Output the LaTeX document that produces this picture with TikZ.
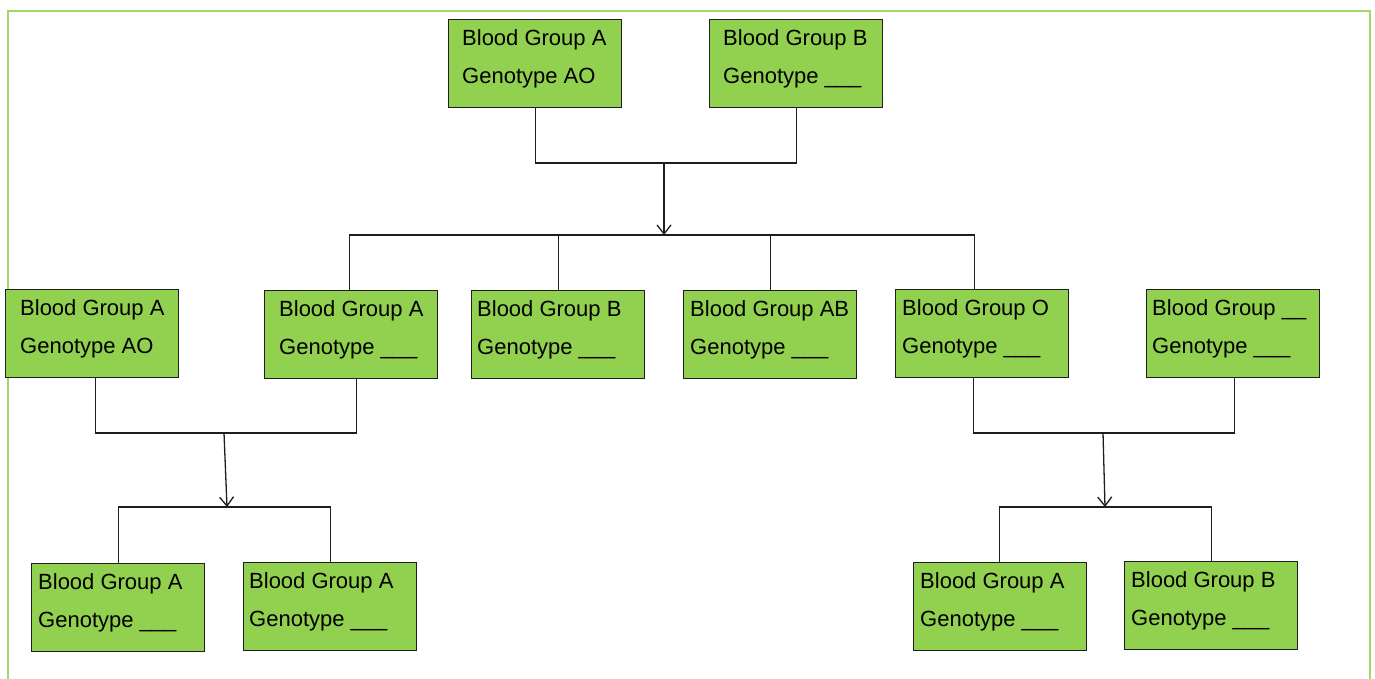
\documentclass[tikz,border=0pt]{standalone}
\usepackage{fontspec}
\setmainfont{Liberation Sans}
\usetikzlibrary{arrows.meta}
\definecolor{leaf}{RGB}{146,208,80}
\definecolor{frame}{RGB}{160,216,104}
\definecolor{ink}{RGB}{30,30,30}
% green box with its two lines of text
\newcommand\gbox[5]{%
  \node[box] (#1) at (#2,#3) {};
  \node[lbl] (#1t) at (#2+#4,#3+10) {#5};
}
\begin{document}
\begin{tikzpicture}[x=1pt,y=-1pt,
  box/.style={draw=ink,line width=1.4pt,fill=leaf,minimum width=173pt,
    minimum height=88pt,anchor=north west,inner sep=0pt},
  lbl/.style={anchor=north west,align=left,inner sep=0pt,text=black,
    font=\fontsize{22}{38}\selectfont},
  wire/.style={draw=ink,line width=1.3pt},
  arr/.style={wire,-{Straight Barb[length=9pt,width=14pt,line width=1.3pt]}}]
\useasboundingbox (0,0) rectangle (1375,678);
% outer frame, open at the bottom
\draw[frame,line width=2pt] (8,700) -- (8,11) -- (1370,11) -- (1370,700);

% parents
\gbox{T1}{448}{19}{14}{Blood Group A\\Genotype AO}
\gbox{T2}{709}{19}{14}{Blood Group B\\Genotype \_\_\_}
% children
\gbox{M1}{5}{289}{15}{Blood Group A\\Genotype AO}
\gbox{M2}{264}{290}{15}{Blood Group A\\Genotype \_\_\_}
\gbox{M3}{471}{290}{6}{Blood Group B\\Genotype \_\_\_}
\gbox{M4}{683}{290}{7}{Blood Group AB\\Genotype \_\_\_}
\gbox{M5}{895}{289}{7}{Blood Group O\\Genotype \_\_\_}
\gbox{M6}{1146}{289}{6}{Blood Group \_\_\\Genotype \_\_\_}
% grandchildren
\gbox{B1}{31}{563}{7}{Blood Group A\\Genotype \_\_\_}
\gbox{B2}{243}{562}{6}{Blood Group A\\Genotype \_\_\_}
\gbox{B3}{913}{562}{7}{Blood Group A\\Genotype \_\_\_}
\gbox{B4}{1124}{561}{7}{Blood Group B\\Genotype \_\_\_}

% junction points
\coordinate (j1) at (664,163);
\coordinate (h1) at (664,235);
\coordinate (j2) at (224,433);
\coordinate (h2) at (227,507);
\coordinate (j3) at (1103,433);
\coordinate (h3) at (1105,507);

% first cross
\draw[wire] (T1.south) |- (j1) -| (T2.south);
\draw[arr] (j1) -- (h1);
\draw[wire] ([xshift=-2pt]M2.north) |- (h1) -| ([xshift=-8pt]M5.north);
\draw[wire] (M3.north) -- (M3.north |- h1);
\draw[wire] (M4.north) -- (M4.north |- h1);

% left cross
\draw[wire] ([xshift=3pt]M1.south) |- (j2) -| ([xshift=5pt]M2.south);
\draw[arr] (j2) -- (h2);
\draw[wire] (B1.north) |- (h2) -| (B2.north);

% right cross
\draw[wire] ([xshift=-9pt]M5.south) |- (j3) -| ([xshift=1pt]M6.south);
\draw[arr] (j3) -- (h3);
\draw[wire] ([xshift=-1pt]B3.north) |- (h3) -| (B4.north);
\end{tikzpicture}
\end{document}
